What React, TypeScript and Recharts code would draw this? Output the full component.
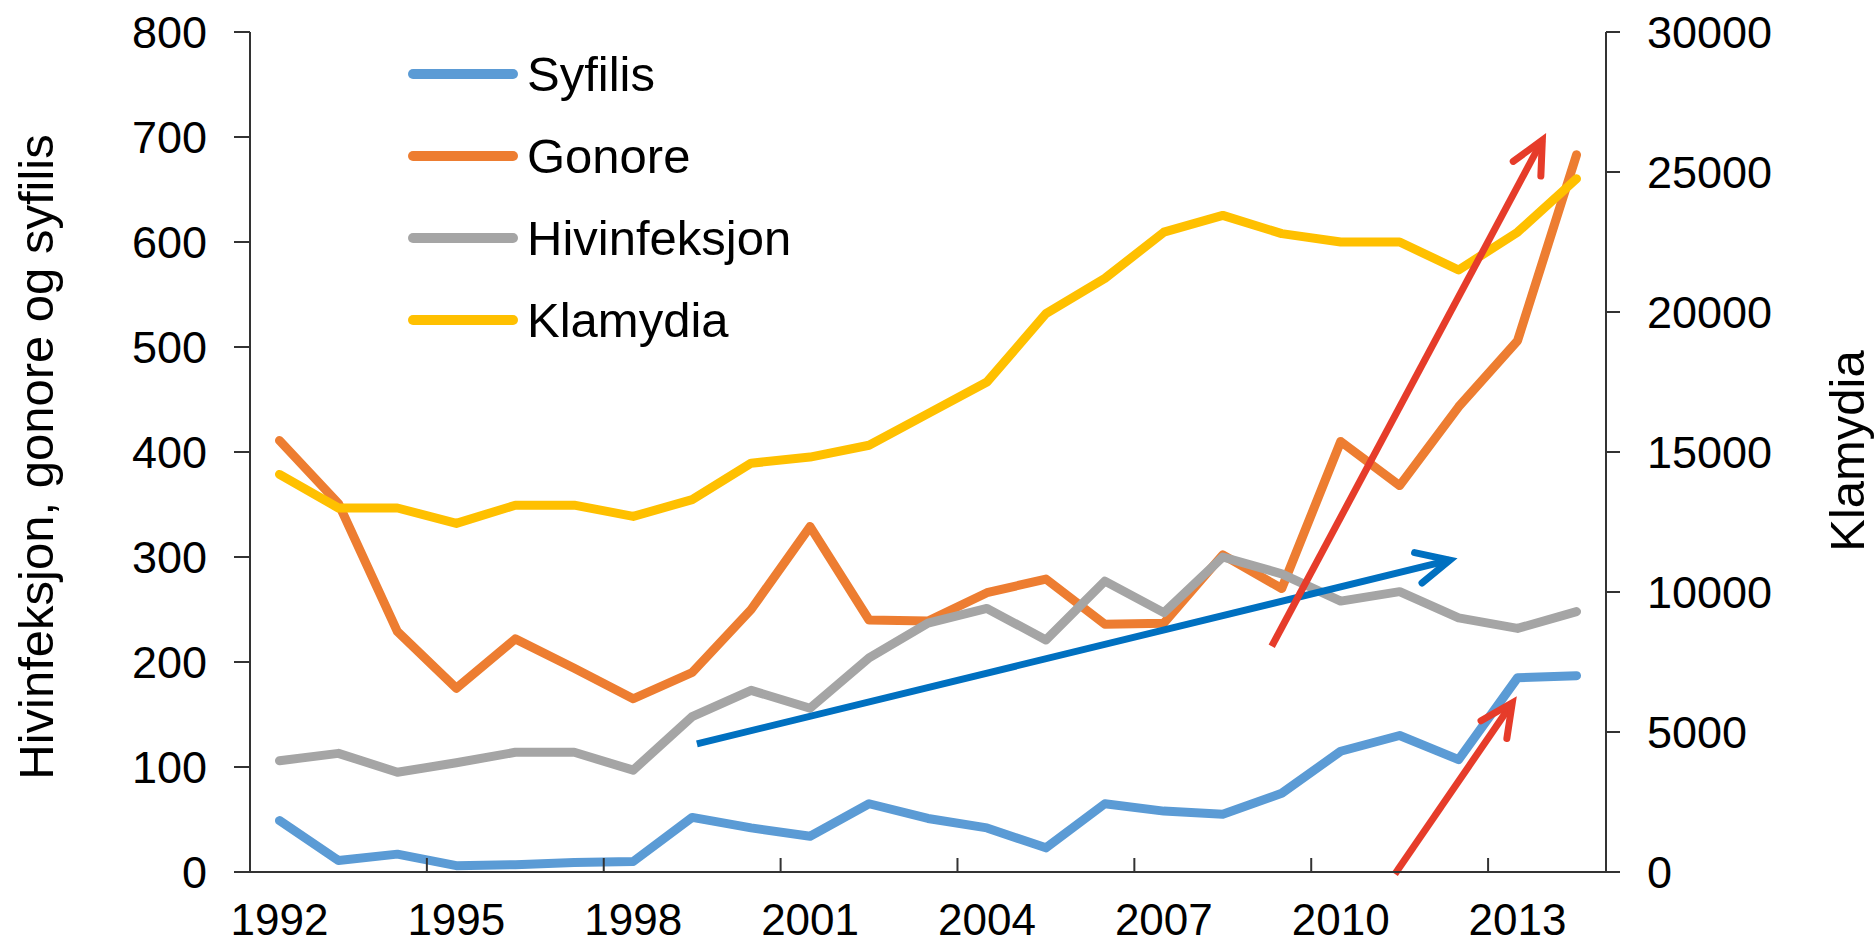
import React from 'react';
import {Label, Legend, Line, LineChart, ReferenceLine, XAxis, YAxis} from "recharts";

const years = [1992, 1993, 1994, 1995, 1996, 1997, 1998, 1999, 2000, 2001, 2002, 2003,
    2004, 2005, 2006, 2007, 2008, 2009, 2010, 2011, 2012, 2013, 2014];
const syfilis = [49, 11, 17, 6, 7, 9, 10, 52, 42, 34, 65, 51, 42, 23, 65, 58, 55, 75, 115, 130, 107, 185, 187];
const gonore = [411, 351, 229, 175, 222, 194, 165, 190, 250, 329, 240, 239, 266, 279, 236, 237, 302, 270, 410, 368, 443, 506, 683];
const hivinfeksjon = [106, 113, 95, 104, 114, 114, 97, 148, 173, 156, 204, 237, 251, 221, 277, 247, 300, 284, 258, 267, 242, 232, 248];
const klamydia = [14200, 13000, 13000, 12450, 13100, 13100, 12700, 13300, 14600, 14820, 15240, 16370, 17500,
    19940, 21200, 22850, 23450, 22800, 22500, 22500, 21500, 22850, 24760];

const seriesNames = ["Syfilis", "Gonore", "Hivinfeksjon", "Klamydia"];
const yearTicks = [1992, 1995, 1998, 2001, 2004, 2007, 2010, 2013];
// tick marks sit between categories, like the excel category axis
const betweenTicks = [1994.5, 1997.5, 2000.5, 2003.5, 2006.5, 2009.5, 2012.5];
const leftTicks = [0, 100, 200, 300, 400, 500, 600, 700, 800];
const rightTicks = [0, 5000, 10000, 15000, 20000, 25000, 30000];

// hand drawn trend arrows, in data units (year, left axis value)
const blueArrow = [{x: 1999.08, y: 122}, {x: 2011.85, y: 297}];
const redArrowBig = [{x: 2008.83, y: 215}, {x: 2013.42, y: 697}];
const redArrowSmall = [{x: 2010.92, y: -2}, {x: 2012.91, y: 161}];

const rows = years.map((year, i) => ({
    year,
    syfilis: syfilis[i],
    gonore: gonore[i],
    hivinfeksjon: hivinfeksjon[i],
    klamydia: klamydia[i],
}));
const xTicks = [...yearTicks, ...betweenTicks].sort((a, b) => a - b);

const FONT = "'Liberation Sans', Arial, sans-serif";
const AXIS = "#333333";
const X_TICK_MARGIN = 32;

function XTick({x, y, payload}: any) {
    const v = payload.value;
    if (!Number.isInteger(v)) {
        const axisY = y - X_TICK_MARGIN;
        return <line x1={x} x2={x} y1={axisY} y2={axisY - 14} stroke={AXIS} strokeWidth={2}/>;
    }
    return (
        <text x={x} y={y} dy="0.71em" textAnchor="middle" fontSize={44} fontFamily={FONT} fill="#000">
            {v}
        </text>
    );
}

function arrowShape(color: string) {
    return (p: any) => {
        const {x1, y1, x2, y2} = p;
        const back = Math.atan2(y1 - y2, x1 - x2);
        const len = 36;
        const spread = 0.45;
        const ax = x2 + len * Math.cos(back + spread);
        const ay = y2 + len * Math.sin(back + spread);
        const bx = x2 + len * Math.cos(back - spread);
        const by = y2 + len * Math.sin(back - spread);
        return (
            <g>
                <line x1={x1} y1={y1} x2={x2} y2={y2} stroke={color} strokeWidth={7}/>
                <polyline points={`${ax},${ay} ${x2},${y2} ${bx},${by}`} fill="none" stroke={color}
                          strokeWidth={7} strokeLinecap="round" strokeLinejoin="miter"/>
            </g>
        );
    };
}

function LegendBox({payload}: any) {
    return (
        <div style={{display: "flex", flexDirection: "column", fontFamily: FONT}}>
            {(payload || []).map((item: any) => (
                <div key={item.value} style={{display: "flex", alignItems: "center", height: 82}}>
                    <span style={{width: 110, height: 10, borderRadius: 5, background: item.color, marginRight: 9}}/>
                    <span style={{fontSize: 49, lineHeight: 1, color: "#000"}}>{item.value}</span>
                </div>
            ))}
        </div>
    );
}

function axisTitle(text: string, dx: number, dy: number) {
    return (props: any) => {
        const vb = props.viewBox;
        const cx = vb.x + dx;
        const cy = vb.y + vb.height / 2 + dy;
        return (
            <text x={cx} y={cy} transform={`rotate(-90 ${cx} ${cy})`} textAnchor="middle"
                  dominantBaseline="central" fontSize={49} fontFamily={FONT} fill="#000">
                {text}
            </text>
        );
    };
}

function App(): React.ReactElement {
    const tickStyle = {fontSize: 45, fill: "#000", fontFamily: FONT};
    return (
        <div style={{position: "absolute", left: 0, top: 0, width: 1875, height: 947, background: "#fff", fontFamily: FONT}}>
            <LineChart width={1875} height={947} data={rows} margin={{top: 32, right: 0, bottom: 0, left: 0}}>
                <XAxis dataKey="year" type="number" domain={[1991.5, 2014.5]} ticks={xTicks} interval={0}
                       tickLine={false} tickSize={0} tickMargin={X_TICK_MARGIN} height={75}
                       axisLine={{stroke: AXIS, strokeWidth: 2}} tick={<XTick/>}/>
                <YAxis yAxisId="left" domain={[0, 800]} ticks={leftTicks} interval={0} width={250}
                       tickSize={16} tickMargin={27} axisLine={{stroke: AXIS, strokeWidth: 2}}
                       tickLine={{stroke: AXIS, strokeWidth: 2}} tick={tickStyle}>
                    <Label content={axisTitle("Hivinfeksjon, gonore og syfilis", 36, 5)}/>
                </YAxis>
                <YAxis yAxisId="right" orientation="right" domain={[0, 30000]} ticks={rightTicks} interval={0}
                       width={269} tickSize={14} tickMargin={27} axisLine={{stroke: AXIS, strokeWidth: 2}}
                       tickLine={{stroke: AXIS, strokeWidth: 2}} tick={tickStyle}>
                    <Label content={axisTitle("Klamydia", 241, -1)}/>
                </YAxis>
                <Legend layout="vertical" align="center" verticalAlign="middle"
                        itemSorter={(item: any) => seriesNames.indexOf(item.value)}
                        wrapperStyle={{left: 408, top: 33, width: "auto", height: "auto"}}
                        content={<LegendBox/>}/>
                <Line yAxisId="left" dataKey="syfilis" name="Syfilis" stroke="#5B9BD5" strokeWidth={9}
                      strokeLinejoin="round" strokeLinecap="round" dot={false} activeDot={false}
                      isAnimationActive={false}/>
                <Line yAxisId="left" dataKey="gonore" name="Gonore" stroke="#ED7D31" strokeWidth={9}
                      strokeLinejoin="round" strokeLinecap="round" dot={false} activeDot={false}
                      isAnimationActive={false}/>
                <Line yAxisId="left" dataKey="hivinfeksjon" name="Hivinfeksjon" stroke="#A5A5A5" strokeWidth={9}
                      strokeLinejoin="round" strokeLinecap="round" dot={false} activeDot={false}
                      isAnimationActive={false}/>
                <Line yAxisId="right" dataKey="klamydia" name="Klamydia" stroke="#FFC000" strokeWidth={9}
                      strokeLinejoin="round" strokeLinecap="round" dot={false} activeDot={false}
                      isAnimationActive={false}/>
                <ReferenceLine yAxisId="left" segment={blueArrow} ifOverflow="visible" shape={arrowShape("#0070C0")}/>
                <ReferenceLine yAxisId="left" segment={redArrowBig} ifOverflow="visible" shape={arrowShape("#E63C2A")}/>
                <ReferenceLine yAxisId="left" segment={redArrowSmall} ifOverflow="visible" shape={arrowShape("#E63C2A")}/>
            </LineChart>
        </div>
    );
}

export default App;
